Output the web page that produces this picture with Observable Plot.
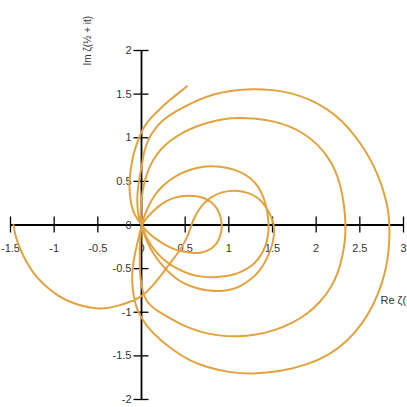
<!DOCTYPE html>
<html><head><meta charset="utf-8">
<script src="https://cdn.jsdelivr.net/npm/d3@7"></script>
<script src="https://cdn.jsdelivr.net/npm/@observablehq/plot@0.6"></script>
<style>body{margin:0;background:#fff}</style>
</head><body><div id="chart"></div>
<script>
const xTicks = [-1.5, -1, -0.5, 0, 0.5, 1, 1.5, 2, 2.5, 3];
const yTicks = [-2, -1.5, -1, -0.5, 0, 0.5, 1, 1.5, 2];
const xTitle = "Re ζ(½ + it)";
const yTitle = "Im ζ(½ + it)";

// ζ(½ + it), loop by loop (between successive zeros)
const loop1 = [[-1.466,0],[-1.44,-0.15],[-1.38,-0.30],[-1.31,-0.44],[-1.233,-0.56],[-1.14,-0.66],[-1.04,-0.75],[-0.95,-0.815],[-0.85,-0.87],[-0.68,-0.93],[-0.51,-0.96],[-0.39,-0.955],[-0.28,-0.93],[-0.14,-0.885],[0,-0.825],[0.11,-0.72],[0.23,-0.57],[0.35,-0.41],[0.46,-0.26],[0.53,-0.13],[0.57,0],[0.62,0.12],[0.70,0.24],[0.79,0.32],[0.93,0.385],[1.08,0.40],[1.22,0.375],[1.34,0.31],[1.42,0.22],[1.48,0.11],[1.52,0],[1.52,-0.12],[1.49,-0.26],[1.43,-0.40],[1.36,-0.52],[1.26,-0.62],[1.14,-0.70],[1.02,-0.745],[0.91,-0.76],[0.77,-0.755],[0.64,-0.73],[0.50,-0.68],[0.37,-0.60],[0.25,-0.48],[0.14,-0.34],[0.06,-0.19],[0.02,-0.07],[0,0]];
const loop2 = [[0,0],[-0.01,0.12],[-0.005,0.25],[0.01,0.38],[0.04,0.52],[0.08,0.64],[0.14,0.76],[0.22,0.87],[0.33,0.97],[0.47,1.06],[0.62,1.13],[0.78,1.18],[0.94,1.215],[1.10,1.23],[1.31,1.22],[1.52,1.19],[1.70,1.13],[1.86,1.05],[2.01,0.93],[2.13,0.79],[2.22,0.63],[2.28,0.45],[2.32,0.24],[2.34,0],[2.33,-0.19],[2.30,-0.37],[2.25,-0.55],[2.17,-0.72],[2.05,-0.88],[1.90,-1.02],[1.72,-1.13],[1.52,-1.21],[1.31,-1.26],[1.10,-1.28],[0.89,-1.27],[0.68,-1.23],[0.49,-1.16],[0.33,-1.07],[0.20,-0.995],[0.09,-0.92],[0.03,-0.82],[0.00,-0.70],[-0.02,-0.55],[-0.02,-0.40],[-0.02,-0.25],[-0.01,-0.12],[0,0]];
const loop3 = [[0,0],[0.03,0.10],[0.08,0.22],[0.14,0.33],[0.23,0.44],[0.33,0.52],[0.44,0.59],[0.56,0.635],[0.68,0.665],[0.79,0.675],[0.90,0.67],[1.01,0.65],[1.13,0.61],[1.25,0.54],[1.34,0.44],[1.40,0.32],[1.44,0.17],[1.46,0],[1.45,-0.13],[1.42,-0.25],[1.36,-0.36],[1.29,-0.45],[1.18,-0.52],[1.06,-0.57],[0.95,-0.59],[0.83,-0.60],[0.70,-0.595],[0.56,-0.57],[0.42,-0.51],[0.29,-0.43],[0.18,-0.33],[0.10,-0.22],[0.04,-0.11],[0,0]];
const loop4 = [[0,0],[-0.03,0.08],[-0.045,0.18],[-0.05,0.28],[-0.045,0.39],[-0.03,0.50],[-0.01,0.61],[0.01,0.72],[0.03,0.85],[0.08,0.99],[0.15,1.10],[0.23,1.19],[0.34,1.27],[0.48,1.35],[0.64,1.43],[0.82,1.50],[1.04,1.545],[1.27,1.56],[1.50,1.55],[1.71,1.515],[1.93,1.44],[2.13,1.33],[2.30,1.19],[2.43,1.04],[2.56,0.86],[2.66,0.68],[2.74,0.49],[2.80,0.29],[2.83,0.13],[2.84,0],[2.84,-0.17],[2.82,-0.41],[2.76,-0.66],[2.66,-0.91],[2.53,-1.13],[2.36,-1.33],[2.15,-1.49],[1.90,-1.60],[1.60,-1.68],[1.27,-1.71],[1.00,-1.69],[0.75,-1.63],[0.54,-1.55],[0.37,-1.44],[0.22,-1.32],[0.09,-1.20],[0.01,-1.08],[-0.05,-0.98],[-0.09,-0.82],[-0.11,-0.66],[-0.105,-0.50],[-0.08,-0.35],[-0.05,-0.22],[-0.025,-0.11],[0,0]];
const loop5 = [[0,0],[0.05,0.07],[0.14,0.17],[0.24,0.25],[0.33,0.30],[0.44,0.33],[0.54,0.34],[0.65,0.33],[0.75,0.30],[0.84,0.23],[0.90,0.13],[0.925,0],[0.91,-0.10],[0.88,-0.19],[0.82,-0.26],[0.75,-0.30],[0.67,-0.32],[0.60,-0.325],[0.49,-0.31],[0.37,-0.28],[0.27,-0.23],[0.18,-0.17],[0.08,-0.10],[0,0]];
const loop6 = [[0,0],[-0.04,0.06],[-0.08,0.12],[-0.11,0.20],[-0.13,0.31],[-0.14,0.43],[-0.135,0.55],[-0.12,0.66],[-0.10,0.78],[-0.07,0.885],[-0.035,0.98],[0,1.07],[0.05,1.16],[0.12,1.24],[0.21,1.33],[0.31,1.42],[0.42,1.51],[0.52,1.59]];

const loops = [loop1, loop2, loop3, loop4, loop5, loop6];
const points = [];
loops.forEach((lp, k) => lp.forEach((p, i) => {
  if (k > 0 && i === 0) return; // zero shared with the previous loop
  points.push({re: p[0], im: p[1]});
}));

const plot = Plot.plot({
  width: 407,
  height: 407,
  marginLeft: 10,
  marginRight: 4,
  marginTop: 50,
  marginBottom: 8,
  x: {domain: [-1.5, 3], axis: null},
  y: {domain: [-2, 2], axis: null},
  style: {fontFamily: "'Liberation Sans', Arial, sans-serif", fontSize: "11px", background: "#fff"},
  marks: [
    Plot.ruleY([0], {stroke: "#000", strokeWidth: 1.8}),
    Plot.ruleX([0], {stroke: "#000", strokeWidth: 1.8}),
    Plot.ruleX(xTicks, {x: d => d, y1: 0, y2: 0, insetTop: -8, insetBottom: -8, stroke: "#000", strokeWidth: 1.3}),
    Plot.ruleY(yTicks, {y: d => d, x1: 0, x2: 0, insetLeft: -7.5, insetRight: -7.5, stroke: "#000", strokeWidth: 1.3}),
    Plot.text(xTicks, {x: d => d, y: 0, text: d => String(d), dy: 23, fill: "#333", fontSize: 11}),
    Plot.text(yTicks, {x: 0, y: d => d, text: d => String(d), dx: -10, textAnchor: "end", fill: "#333", fontSize: 11}),
    Plot.text([yTitle], {frameAnchor: "top-left", text: d => d, rotate: -90, dx: 73, dy: 15, fill: "#333", fontSize: 10}),
    Plot.text([xTitle], {frameAnchor: "right", text: d => d, textAnchor: "start", dx: -23, dy: 75, fill: "#333", fontSize: 11}),
    Plot.line(points, {x: "re", y: "im", stroke: "#e2a33f", strokeWidth: 2, curve: "basis"})
  ]
});
document.getElementById("chart").appendChild(plot);
</script>
</body></html>
